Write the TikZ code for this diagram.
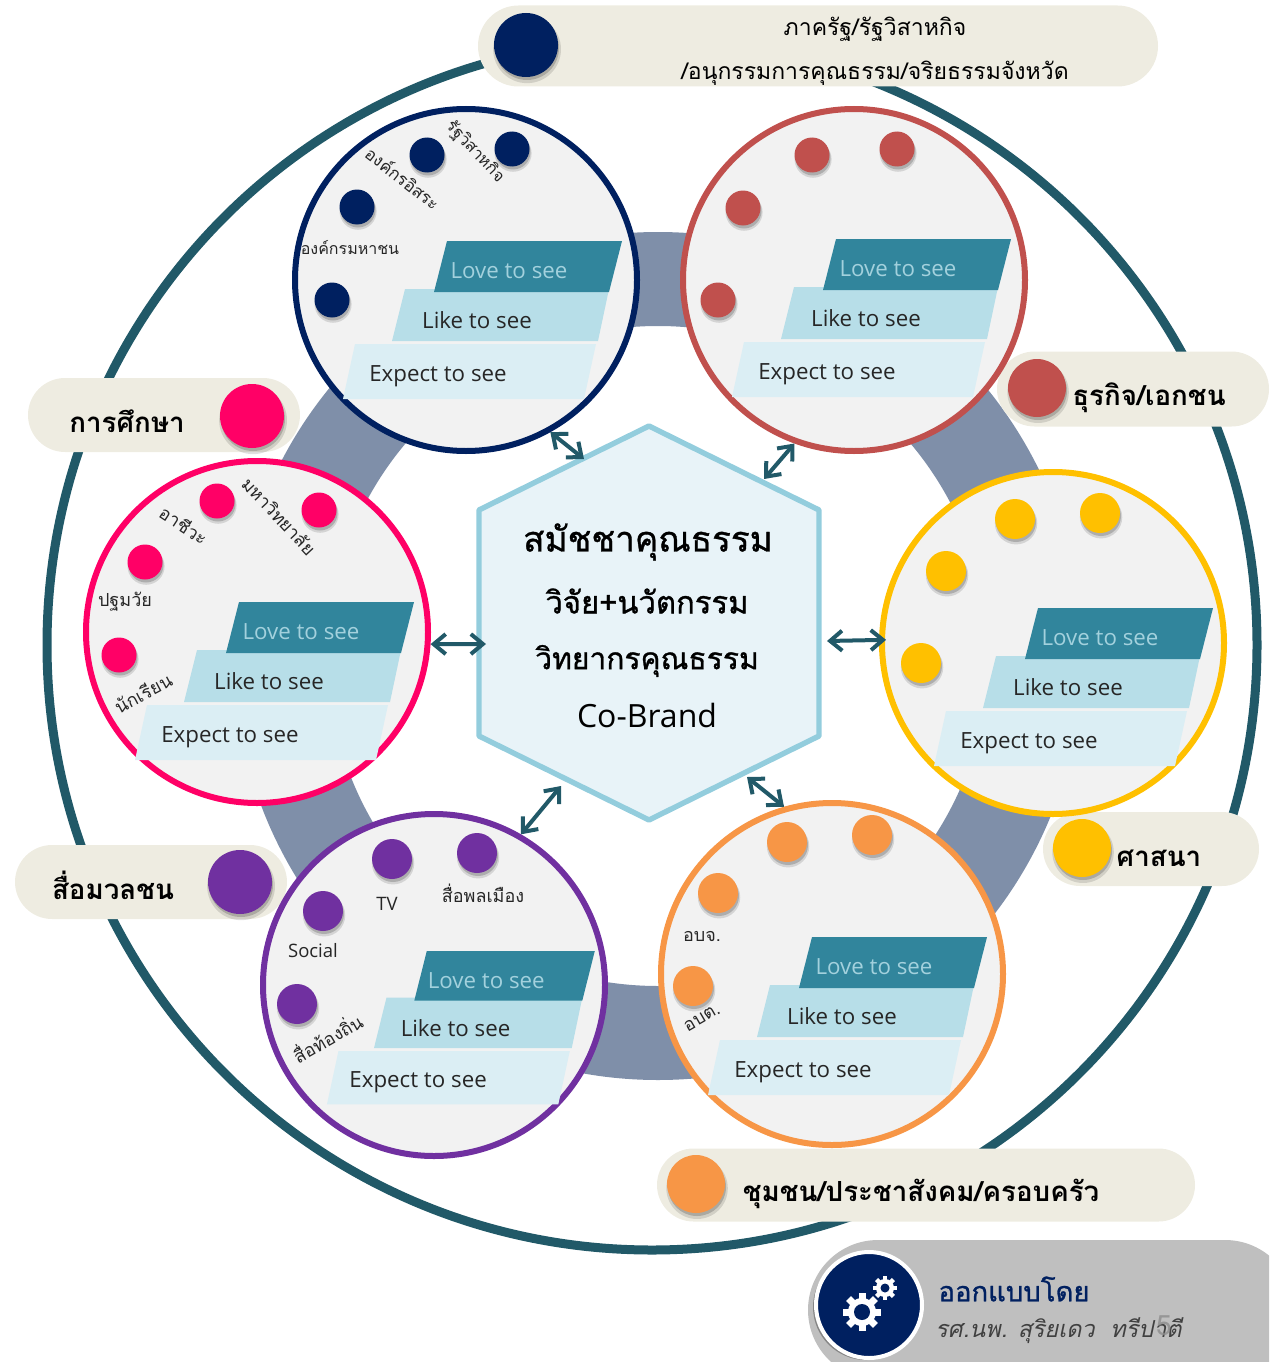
\documentclass[tikz,border=0pt]{standalone}
\usepackage{fontspec}
\setmainfont{Loma}[Script=Thai]
\newfontfamily\thaimedium{Loma}[Script=Thai,FakeBold=1]
\newfontfamily\latinfont{Open Sans}
\usetikzlibrary{arrows.meta,shadows,shapes.misc}
\definecolor{ringteal}{HTML}{215968}
\definecolor{ringblue}{HTML}{7F8FA9}
\definecolor{pillbg}{HTML}{EEECE1}
\definecolor{navyc}{HTML}{002060}
\definecolor{redc}{HTML}{C0504D}
\definecolor{yellowc}{HTML}{FFC000}
\definecolor{orangec}{HTML}{F79646}
\definecolor{purplec}{HTML}{7030A0}
\definecolor{pinkc}{HTML}{FF0066}
\definecolor{lovec}{HTML}{31859C}
\definecolor{likec}{HTML}{B7DEE8}
\definecolor{expectc}{HTML}{DBEEF4}
\definecolor{hexedge}{HTML}{93CDDD}
\definecolor{hexfill}{HTML}{E8F3F8}
\newcommand{\fsize}[1]{\fontsize{#1}{#1}\selectfont}
\tikzset{
  softshadow/.style={
    drop shadow={shadow xshift=1pt,shadow yshift=-4pt,shadow scale=1.06,opacity=.12,fill=black},
    drop shadow={shadow xshift=1pt,shadow yshift=-3pt,shadow scale=1,opacity=.18,fill=black}},
  disc/.style={circle,fill=black!5,line width=6pt,minimum size=342pt,inner sep=0pt},
  spot/.style={circle,softshadow,inner sep=0pt},
  pill/.style={rounded rectangle,fill=pillbg,inner sep=0pt},
  note/.style={inner sep=0pt,font=\fsize{18},text=black!85},
  pilltext/.style={inner sep=0pt,font=\fsize{27.7}\bfseries},
  tiertext/.style={inner sep=0pt,font=\latinfont\fsize{22.3}},
  centertext/.style={inner sep=0pt},
  linkarrow/.style={draw=ringteal,line width=4pt,line cap=round,
    {Straight Barb[length=12pt,width=20pt]}-{Straight Barb[length=12pt,width=20pt]}}
}
\begin{document}
\begin{tikzpicture}[x=1pt,y=-1pt]
        \useasboundingbox (0,0) rectangle (1269,1362);
        \clip (0,0) rectangle (1269,1362);
        \draw[ringteal,line width=9pt] (652,645) circle (605);
        \draw[ringblue,line width=94pt] (658,656) circle (377);
        \begin{scope}
          \node[pill,minimum width=680pt,minimum height=81pt] (toppill) at (818,46) {};
          \node[pill,minimum width=272pt,minimum height=75pt] (bizpill) at (1133,389) {};
          \node[pill,minimum width=216pt,minimum height=74pt] (relpill) at (1151,849) {};
          \node[pill,minimum width=538pt,minimum height=73pt] (compill) at (926,1185) {};
          \node[pill,minimum width=272pt,minimum height=74pt] (edupill) at (164,415) {};
          \node[pill,minimum width=272pt,minimum height=74pt] (medpill) at (151,882) {};
          \node[spot,fill=navyc,minimum size=64pt] (topspot) at (526,45) {};
          \node[spot,fill=redc,minimum size=58pt] (bizspot) at (1037,388) {};
          \node[spot,fill=yellowc,minimum size=58pt] (relspot) at (1082,848) {};
          \node[spot,fill=orangec,minimum size=58pt] (comspot) at (696,1184) {};
          \node[spot,fill=pinkc,minimum size=64pt] (eduspot) at (252,416) {};
          \node[spot,fill=purplec,minimum size=64pt] (medspot) at (240,882) {};
        \end{scope}
        \node[inner sep=0pt,font=\fsize{23}] (toptexta) at (875,29) {ภาครัฐ/รัฐวิสาหกิจ};
        \node[inner sep=0pt,font=\fsize{23}] (toptextb) at (875,73) {/อนุกรรมการคุณธรรม/จริยธรรมจังหวัด};
        \node[pilltext] (biztext) at (1149,398) {ธุรกิจ/เอกชน};
        \node[pilltext] (reltext) at (1159,858) {ศาสนา};
        \node[pilltext] (comtext) at (921,1194) {ชุมชน/ประชาสังคม/ครอบครัว};
        \node[pilltext] (edutext) at (127,421) {การศึกษา};
        \node[pilltext] (medtext) at (113,885) {สื่อมวลชน};
        \draw[draw=hexedge,fill=hexfill,line width=5.4pt,line join=round]
          (479,510) -- (649,426) -- (819,510) -- (819,736) -- (649,820) -- (479,736) -- cycle;
        \coordinate (hexnw) at (584,459);
        \coordinate (hexne) at (764,479);
        \coordinate (hexe) at (827,641);
        \coordinate (hexse) at (747,777);
        \coordinate (hexsw) at (561,786);
        \coordinate (hexw) at (486,644);
        \node[centertext,font=\thaimedium\fsize{35}] (hextexta) at (648,542) {สมัชชาคุณธรรม};
        \node[centertext,font=\thaimedium\fsize{31}] (hextextb) at (647,601) {วิจัย+นวัตกรรม};
        \node[centertext,font=\thaimedium\fsize{30}] (hextextc) at (647,661) {วิทยากรคุณธรรม};
        \node[centertext,font=\latinfont\fsize{32}] (hextextd) at (647,715) {Co-Brand};
        \foreach \name/\col/\cx/\cy/\tx/\ty/\sx/\sy in {navy/navyc/466/280/466/280/1/1,red/redc/854/280/855/278/1/1,
            yellow/yellowc/1053/643/1057/647/1/1,orange/orangec/832/974/831/976/1/1,
            purple/purplec/434/985/445/989/.96/.97,pink/pinkc/257/632/258/641/1/1}{
          \node[disc,draw=\col] (\name) at (\cx,\cy) {};
          \begin{scope}[shift={(\tx,\ty)},xscale=\sx,yscale=\sy]
            \fill[expectc] (-111,64) -- (130,64) -- (118,119) -- (-123,119) -- cycle;
            \fill[likec] (-61,9) -- (143,9) -- (132,61) -- (-74,61) -- cycle;
            \fill[lovec] (-19,-39) -- (156,-39) -- (143,12) -- (-32,12) -- cycle;
            \node[tiertext,text=likec!85!lovec] (\name love) at (43,-9) {Love to see};
            \node[tiertext,text=black!85] (\name like) at (11,40) {Like to see};
            \node[tiertext,text=black!85] (\name expect) at (-28,96.5) {Expect to see};
          \end{scope}
        }
        \begin{scope}[every node/.style={spot,fill=navyc,minimum size=35pt}]
          \node (navya) at (427,155) {};
          \node (navyb) at (512,149) {};
          \node (navyc) at (357,207) {};
          \node (navyd) at (332,300) {};
        \end{scope}
        \begin{scope}[every node/.style={spot,fill=redc,minimum size=35pt}]
          \node (reda) at (812,155) {};
          \node (redb) at (897,149) {};
          \node (redc) at (743,208) {};
          \node (redd) at (718,300) {};
        \end{scope}
        \begin{scope}[every node/.style={spot,fill=yellowc,minimum size=40pt}]
          \node (yellowa) at (1015,519) {};
          \node (yellowb) at (1100,513) {};
          \node (yellowc) at (946,571) {};
          \node (yellowd) at (921,663) {};
        \end{scope}
        \begin{scope}[every node/.style={spot,fill=orangec,minimum size=40pt}]
          \node (orangea) at (787,842) {};
          \node (orangeb) at (872,835) {};
          \node (orangec) at (718,893) {};
          \node (oranged) at (693,986) {};
        \end{scope}
        \begin{scope}[every node/.style={spot,fill=purplec,minimum size=40pt}]
          \node (purplea) at (392,859) {};
          \node (purpleb) at (477,853) {};
          \node (purplec) at (323,911) {};
          \node (purpled) at (297,1004) {};
        \end{scope}
        \begin{scope}[every node/.style={spot,fill=pinkc,minimum size=35pt}]
          \node (pinka) at (217,501) {};
          \node (pinkb) at (319,510) {};
          \node (pinkc) at (145,562) {};
          \node (pinkd) at (119,655) {};
        \end{scope}
        \node[note,font=\fsize{17},rotate=-38] (notea) at (403,178) {องค์กรอิสระ};
        \node[note,font=\fsize{16.5},rotate=-47] (noteb) at (475,152) {รัฐวิสาหกิจ};
        \node[note,font=\fsize{16}] (notec) at (350,248) {องค์กรมหาชน};
        \node[note,rotate=-47] (noted) at (279,516) {มหาวิทยาลัย};
        \node[note,rotate=-33] (notee) at (184,525) {อาชีวะ};
        \node[note] (notef) at (125,602) {ปฐมวัย};
        \node[note,rotate=28] (noteg) at (143,693) {นักเรียน};
        \node[note] (noteh) at (483,893) {สื่อพลเมือง};
        \node[note,font=\latinfont\fsize{18.5}] (notei) at (387,904) {TV};
        \node[note,font=\latinfont\fsize{18.5}] (notej) at (313,951) {Social};
        \node[note,rotate=30] (notek) at (327,1037) {สื่อท้องถิ่น};
        \node[note] (notel) at (702,936) {อบจ.};
        \node[note,rotate=30] (notem) at (702,1018) {อบต.};
        \begin{scope}[every edge/.style={linkarrow}]
          \path (navy.-61) edge (hexnw);
          \path (red.-110) edge (hexne);
          \path (hexe) edge[shorten >=-7pt] (yellow.179);
          \path (orange.106) edge (hexse);
          \path (purple.60) edge (hexsw);
          \path (pink.-4) edge (hexw);
        \end{scope}
        \node[rounded rectangle,fill=black!25,inner sep=0pt,minimum width=487pt,minimum height=140pt] (creditbox) at (1051.5,1310) {};
        \node[circle,fill=navyc,draw=white,line width=4pt,minimum size=106pt,inner sep=0pt,
          drop shadow={shadow xshift=-3pt,shadow yshift=-2pt,opacity=.3,fill=black}] (creditspot) at (869,1305) {};
        \foreach \gx/\gy/\ga/\gb/\gw/\gh in {862/1312/13/19/7/8,885/1288/8/12/4.5/4.5}{
          \fill[white] (\gx,\gy) circle (\ga+1);
          \foreach \a in {0,45,...,315}
            \draw[white,line width=\gw pt] ([shift={(\gx,\gy)}]\a:\ga) -- ([shift={(\gx,\gy)}]\a:\gb);
          \fill[navyc] (\gx,\gy) circle (\gh);
        }
        \node[inner sep=0pt,font=\thaimedium\fsize{27.5},text=navyc] (credittitle) at (1014,1289) {ออกแบบโดย};
        \node[inner sep=0pt,font=\fsize{23.4}\itshape,text=black!75] (creditname) at (1058.5,1331) {รศ.นพ. สุริยเดว\ \ ทรีปาตี};
        \node[inner sep=0pt,font=\fsize{28},text=black!45,text opacity=.8] (pagemark) at (1164,1326) {5};
\end{tikzpicture}
\end{document}
